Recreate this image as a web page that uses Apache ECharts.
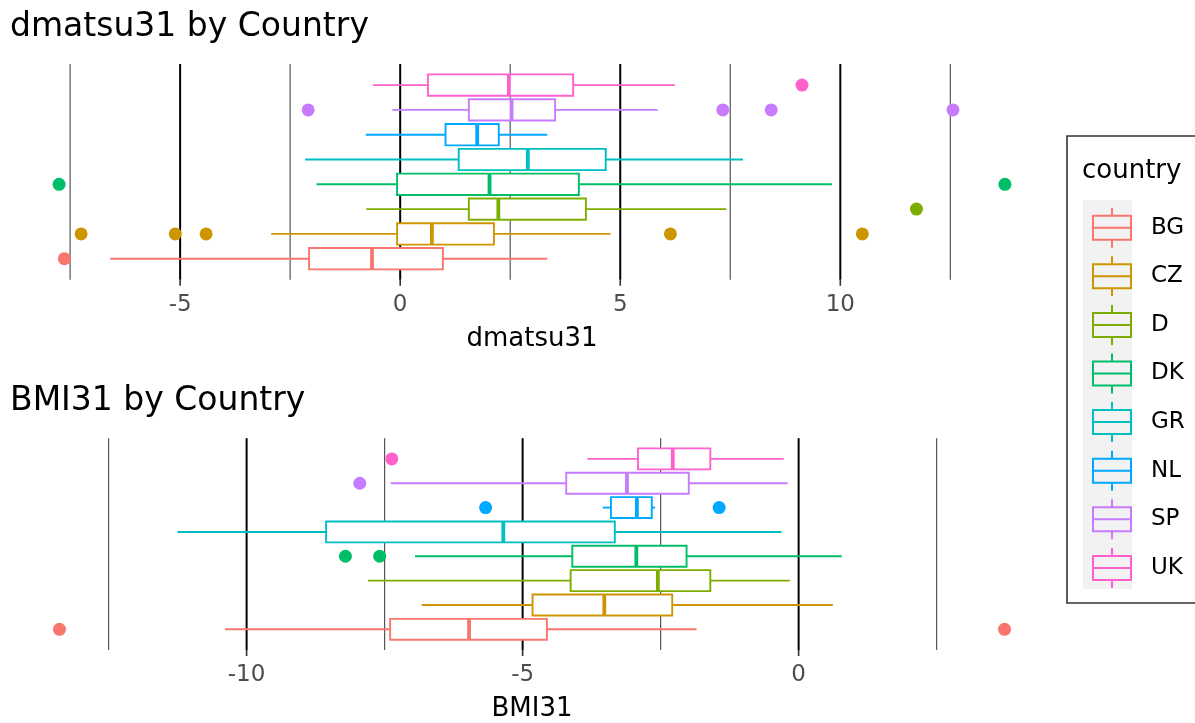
<!DOCTYPE html>
<html>
<head>
<meta charset="utf-8">
<script src="https://cdn.jsdelivr.net/npm/echarts@6/dist/echarts.min.js"></script>
<style>
  html, body { margin: 0; padding: 0; background: #fff; }
  #chart { width: 1195px; height: 723px; }
</style>
</head>
<body>
<div id="chart"></div>
<script>
// ---------- data ----------
const countries = ["BG", "CZ", "D", "DK", "GR", "NL", "SP", "UK"];

// dmatsu31 panel: lower whisker, Q1, median, Q3, upper whisker (per country)
const dmLow  = [-6.59, -2.93, -0.77, -1.90, -2.16, -0.78, -0.18, -0.62];
const dmQ1   = [-2.07, -0.07,  1.56, -0.07,  1.33,  1.03,  1.56,  0.63];
const dmMed  = [-0.64,  0.72,  2.23,  2.03,  2.90,  1.75,  2.53,  2.47];
const dmQ3   = [ 0.97,  2.13,  4.22,  4.06,  4.67,  2.24,  3.52,  3.93];
const dmHigh = [ 3.34,  4.78,  7.41,  9.81,  7.79,  3.34,  5.85,  6.24];
const dmOutliers = [
  ["BG", -7.63],
  ["CZ", -7.25], ["CZ", -5.11], ["CZ", -4.41], ["CZ", 6.14], ["CZ", 10.50],
  ["D", 11.73],
  ["DK", -7.75], ["DK", 13.74],
  ["SP", -2.09], ["SP", 7.33], ["SP", 8.43], ["SP", 12.56],
  ["UK", 9.13]
];
const dmRange = [-8.82, 14.81];
const dmMajorTicks = [-5, 0, 5, 10];
const dmMinorTicks = [-7.5, -2.5, 2.5, 7.5, 12.5];

// BMI31 panel
const bmiLow  = [-10.39, -6.83, -7.80, -6.95, -11.25, -3.55, -7.39, -3.83];
const bmiQ1   = [ -7.40, -4.82, -4.13, -4.10,  -8.56, -3.40, -4.21, -2.91];
const bmiMed  = [ -5.97, -3.52, -2.55, -2.94,  -5.35, -2.93, -3.11, -2.28];
const bmiQ3   = [ -4.56, -2.29, -1.60, -2.03,  -3.33, -2.66, -1.99, -1.60];
const bmiHigh = [ -1.85,  0.62, -0.16,  0.78,  -0.31, -2.60, -0.20, -0.27];
const bmiOutliers = [
  ["BG", -13.39], ["BG", 3.73],
  ["DK", -8.21], ["DK", -7.59],
  ["NL", -5.67], ["NL", -1.44],
  ["SP", -7.95],
  ["UK", -7.37]
];
const bmiRange = [-14.25, 4.59];
const bmiMajorTicks = [-10, -5, 0];
const bmiMinorTicks = [-12.5, -7.5, -2.5, 2.5];

// ---------- styles ----------
const palette = ["#F8766D", "#CD9600", "#7CAE00", "#00BE67", "#00BFC4", "#00A9FF", "#C77CFF", "#FF61CC"];
const FONT = "DejaVu Sans";
const legendIcon = "path://M0 7H40V9H0Z M0 31H40V33H0Z M0 7H2V33H0Z M38 7H40V33H38Z M0 19H40V21H0Z M19 0H21V7H19Z M19 33H21V40H19Z";

function gridRender(params, api) {
  const x = api.coord([api.value(0), 0])[0];
  const cs = params.coordSys;
  const major = api.value(1) === 1;
  const children = [{
    type: 'line',
    shape: { x1: x, y1: cs.y, x2: x, y2: cs.y + cs.height },
    style: { stroke: major ? '#000000' : '#555555', lineWidth: major ? 2 : 1.2 }
  }];
  if (major) {
    children.push({
      type: 'line',
      shape: { x1: x, y1: cs.y + cs.height, x2: x, y2: cs.y + cs.height + 6 },
      style: { stroke: '#333333', lineWidth: 1.6 }
    });
  }
  return { type: 'group', children: children };
}

function boxRender(params, api) {
  const yi = api.value(0);
  const px = (v) => api.coord([v, yi])[0];
  const yc = api.coord([api.value(3), yi])[1];
  const half = api.size([0, 1])[1] * 0.43;
  const xl = px(api.value(1)), xq1 = px(api.value(2)), xm = px(api.value(3)),
        xq3 = px(api.value(4)), xh = px(api.value(5));
  const col = api.visual('color');
  return {
    type: 'group',
    children: [
      { type: 'line', shape: { x1: xl, y1: yc, x2: xq1, y2: yc }, style: { stroke: col, lineWidth: 1.9 } },
      { type: 'line', shape: { x1: xq3, y1: yc, x2: xh, y2: yc }, style: { stroke: col, lineWidth: 1.9 } },
      { type: 'rect', shape: { x: xq1, y: yc - half, width: xq3 - xq1, height: 2 * half },
        style: { fill: '#ffffff', stroke: col, lineWidth: 1.9 } },
      { type: 'line', shape: { x1: xm, y1: yc - half, x2: xm, y2: yc + half }, style: { stroke: col, lineWidth: 3.8 } }
    ]
  };
}

function panelSeries(p, low, q1, med, q3, high, outliers, major, minor) {
  const s = [];
  s.push({
    type: 'custom', xAxisIndex: p, yAxisIndex: p, z: 1, silent: true, clip: false,
    data: major.map(v => [v, 1]).concat(minor.map(v => [v, 0])),
    encode: { x: 0, y: 1 },
    renderItem: gridRender
  });
  countries.forEach((c, i) => {
    s.push({
      type: 'custom', name: c, xAxisIndex: p, yAxisIndex: p, z: 2, silent: true,
      itemStyle: { color: palette[i] },
      data: [[i, low[i], q1[i], med[i], q3[i], high[i]]],
      encode: { y: 0, x: [1, 2, 3, 4, 5] },
      renderItem: boxRender
    });
    s.push({
      type: 'scatter', name: c, xAxisIndex: p, yAxisIndex: p, z: 3, silent: true,
      symbolSize: 13,
      itemStyle: { color: palette[i], opacity: 1 },
      data: outliers.filter(o => o[0] === c).map(o => [o[1], i])
    });
  });
  return s;
}

function xAxisFor(gi, range, major, name) {
  return {
    type: 'value', gridIndex: gi, min: range[0], max: range[1],
    axisLine: { show: false },
    splitLine: { show: false },
    axisTick: { show: false },
    axisLabel: { customValues: major, fontSize: 23, color: '#4D4D4D', fontFamily: FONT, margin: 14 },
    name: name, nameLocation: 'middle', nameGap: 46,
    nameTextStyle: { fontSize: 26, color: '#000000', fontFamily: FONT }
  };
}

const chart = echarts.init(document.getElementById('chart'), null, { renderer: 'canvas' });
const option = {
  animation: false,
  backgroundColor: '#ffffff',
  color: palette,
  title: [
    { text: 'dmatsu31 by Country', left: 10, top: 11, padding: 0,
      textStyle: { fontSize: 33, fontWeight: 'normal', fontFamily: FONT, color: '#000000' } },
    { text: 'BMI31 by Country', left: 10, top: 385, padding: 0,
      textStyle: { fontSize: 33, fontWeight: 'normal', fontFamily: FONT, color: '#000000' } },
    { text: 'country', left: 1082, top: 158, padding: 0,
      textStyle: { fontSize: 26, fontWeight: 'normal', fontFamily: FONT, color: '#000000' } }
  ],
  grid: [
    { left: 12, right: 143, top: 64, height: 215.8 },
    { left: 12, right: 143, top: 438.2, height: 214.5 }
  ],
  xAxis: [
    xAxisFor(0, dmRange, dmMajorTicks, 'dmatsu31'),
    xAxisFor(1, bmiRange, bmiMajorTicks, 'BMI31')
  ],
  yAxis: [
    { type: 'value', gridIndex: 0, min: -0.85, max: 7.85, show: false },
    { type: 'value', gridIndex: 1, min: -0.85, max: 7.85, show: false }
  ],
  legend: {
    orient: 'vertical', left: 1087, top: 202.7,
    itemWidth: 40, itemHeight: 40, itemGap: 8.6,
    icon: legendIcon,
    selectedMode: false,
    data: countries,
    itemStyle: { borderWidth: 0 },
    textStyle: { fontSize: 23, color: '#000000', fontFamily: FONT, padding: [0, 0, 0, 14] }
  },
  graphic: [
    { type: 'rect', z: 0, shape: { x: 1083, y: 200, width: 49, height: 389 }, style: { fill: '#F2F2F2' } },
    { type: 'rect', z: 0, shape: { x: 1067, y: 136, width: 140, height: 467 }, style: { fill: 'none', stroke: '#333333', lineWidth: 1.6 } }
  ],
  series: [].concat(
    panelSeries(0, dmLow, dmQ1, dmMed, dmQ3, dmHigh, dmOutliers, dmMajorTicks, dmMinorTicks),
    panelSeries(1, bmiLow, bmiQ1, bmiMed, bmiQ3, bmiHigh, bmiOutliers, bmiMajorTicks, bmiMinorTicks)
  )
};
chart.setOption(option);
</script>
</body>
</html>
